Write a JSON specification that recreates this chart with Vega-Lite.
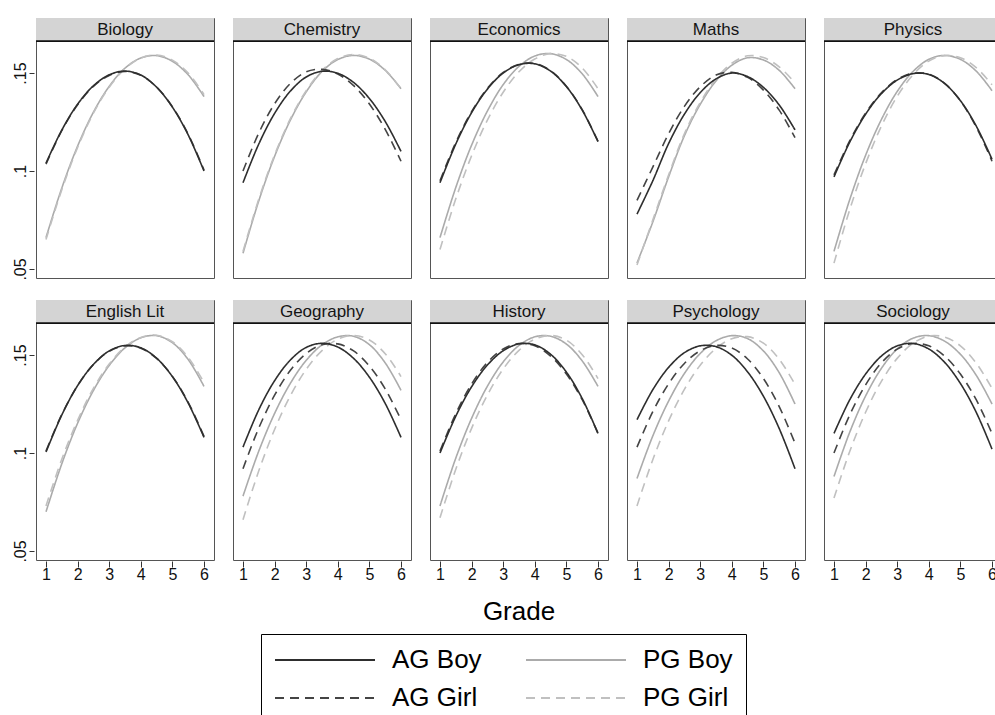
{
"$schema": "https://vega.github.io/schema/vega-lite/v6.json",
"padding": {"left": 12, "top": 17, "right": 0, "bottom": 0},
"background": "white",
"datasets": {
"curves": [
{"s":"Biology","g":"PG Boy","x":1,"y":0.066},{"s":"Biology","g":"PG Boy","x":1.5,"y":0.0913},{"s":"Biology","g":"PG Boy","x":2,"y":0.1127},{"s":"Biology","g":"PG Boy","x":2.5,"y":0.130},{"s":"Biology","g":"PG Boy","x":3,"y":0.1432},{"s":"Biology","g":"PG Boy","x":3.5,"y":0.1525},{"s":"Biology","g":"PG Boy","x":4,"y":0.1577},{"s":"Biology","g":"PG Boy","x":4.5,"y":0.1589},{"s":"Biology","g":"PG Boy","x":5,"y":0.156},{"s":"Biology","g":"PG Boy","x":5.5,"y":0.1491},{"s":"Biology","g":"PG Boy","x":6,"y":0.138},
{"s":"Biology","g":"PG Girl","x":1,"y":0.065},{"s":"Biology","g":"PG Girl","x":1.5,"y":0.0905},{"s":"Biology","g":"PG Girl","x":2,"y":0.112},{"s":"Biology","g":"PG Girl","x":2.5,"y":0.1295},{"s":"Biology","g":"PG Girl","x":3,"y":0.1428},{"s":"Biology","g":"PG Girl","x":3.5,"y":0.1522},{"s":"Biology","g":"PG Girl","x":4,"y":0.1577},{"s":"Biology","g":"PG Girl","x":4.5,"y":0.1592},{"s":"Biology","g":"PG Girl","x":5,"y":0.1566},{"s":"Biology","g":"PG Girl","x":5.5,"y":0.150},{"s":"Biology","g":"PG Girl","x":6,"y":0.139},
{"s":"Biology","g":"AG Girl","x":1,"y":0.1035},{"s":"Biology","g":"AG Girl","x":1.5,"y":0.1206},{"s":"Biology","g":"AG Girl","x":2,"y":0.1338},{"s":"Biology","g":"AG Girl","x":2.5,"y":0.1432},{"s":"Biology","g":"AG Girl","x":3,"y":0.1488},{"s":"Biology","g":"AG Girl","x":3.5,"y":0.1508},{"s":"Biology","g":"AG Girl","x":4,"y":0.1489},{"s":"Biology","g":"AG Girl","x":4.5,"y":0.1428},{"s":"Biology","g":"AG Girl","x":5,"y":0.1328},{"s":"Biology","g":"AG Girl","x":5.5,"y":0.1188},{"s":"Biology","g":"AG Girl","x":6,"y":0.1005},
{"s":"Biology","g":"AG Boy","x":1,"y":0.104},{"s":"Biology","g":"AG Boy","x":1.5,"y":0.1209},{"s":"Biology","g":"AG Boy","x":2,"y":0.1341},{"s":"Biology","g":"AG Boy","x":2.5,"y":0.1435},{"s":"Biology","g":"AG Boy","x":3,"y":0.1491},{"s":"Biology","g":"AG Boy","x":3.5,"y":0.151},{"s":"Biology","g":"AG Boy","x":4,"y":0.149},{"s":"Biology","g":"AG Boy","x":4.5,"y":0.1428},{"s":"Biology","g":"AG Boy","x":5,"y":0.1326},{"s":"Biology","g":"AG Boy","x":5.5,"y":0.1184},{"s":"Biology","g":"AG Boy","x":6,"y":0.100},

{"s":"Chemistry","g":"PG Boy","x":1,"y":0.058},{"s":"Chemistry","g":"PG Boy","x":1.5,"y":0.0848},{"s":"Chemistry","g":"PG Boy","x":2,"y":0.1075},{"s":"Chemistry","g":"PG Boy","x":2.5,"y":0.126},{"s":"Chemistry","g":"PG Boy","x":3,"y":0.1404},{"s":"Chemistry","g":"PG Boy","x":3.5,"y":0.1508},{"s":"Chemistry","g":"PG Boy","x":4,"y":0.1569},{"s":"Chemistry","g":"PG Boy","x":4.5,"y":0.159},{"s":"Chemistry","g":"PG Boy","x":5,"y":0.1571},{"s":"Chemistry","g":"PG Boy","x":5.5,"y":0.1514},{"s":"Chemistry","g":"PG Boy","x":6,"y":0.142},
{"s":"Chemistry","g":"PG Girl","x":1,"y":0.059},{"s":"Chemistry","g":"PG Girl","x":1.5,"y":0.0857},{"s":"Chemistry","g":"PG Girl","x":2,"y":0.1082},{"s":"Chemistry","g":"PG Girl","x":2.5,"y":0.1267},{"s":"Chemistry","g":"PG Girl","x":3,"y":0.141},{"s":"Chemistry","g":"PG Girl","x":3.5,"y":0.1513},{"s":"Chemistry","g":"PG Girl","x":4,"y":0.1574},{"s":"Chemistry","g":"PG Girl","x":4.5,"y":0.1595},{"s":"Chemistry","g":"PG Girl","x":5,"y":0.1576},{"s":"Chemistry","g":"PG Girl","x":5.5,"y":0.1517},{"s":"Chemistry","g":"PG Girl","x":6,"y":0.142},
{"s":"Chemistry","g":"AG Girl","x":1,"y":0.100},{"s":"Chemistry","g":"AG Girl","x":1.5,"y":0.1194},{"s":"Chemistry","g":"AG Girl","x":2,"y":0.1343},{"s":"Chemistry","g":"AG Girl","x":2.5,"y":0.1447},{"s":"Chemistry","g":"AG Girl","x":3,"y":0.1506},{"s":"Chemistry","g":"AG Girl","x":3.5,"y":0.1519},{"s":"Chemistry","g":"AG Girl","x":4,"y":0.1495},{"s":"Chemistry","g":"AG Girl","x":4.5,"y":0.1436},{"s":"Chemistry","g":"AG Girl","x":5,"y":0.1342},{"s":"Chemistry","g":"AG Girl","x":5.5,"y":0.1213},{"s":"Chemistry","g":"AG Girl","x":6,"y":0.105},
{"s":"Chemistry","g":"AG Boy","x":1,"y":0.094},{"s":"Chemistry","g":"AG Boy","x":1.5,"y":0.1138},{"s":"Chemistry","g":"AG Boy","x":2,"y":0.1294},{"s":"Chemistry","g":"AG Boy","x":2.5,"y":0.1408},{"s":"Chemistry","g":"AG Boy","x":3,"y":0.148},{"s":"Chemistry","g":"AG Boy","x":3.5,"y":0.1509},{"s":"Chemistry","g":"AG Boy","x":4,"y":0.1499},{"s":"Chemistry","g":"AG Boy","x":4.5,"y":0.1452},{"s":"Chemistry","g":"AG Boy","x":5,"y":0.137},{"s":"Chemistry","g":"AG Boy","x":5.5,"y":0.1253},{"s":"Chemistry","g":"AG Boy","x":6,"y":0.110},

{"s":"Economics","g":"PG Boy","x":1,"y":0.066},{"s":"Economics","g":"PG Boy","x":1.5,"y":0.0916},{"s":"Economics","g":"PG Boy","x":2,"y":0.1132},{"s":"Economics","g":"PG Boy","x":2.5,"y":0.1306},{"s":"Economics","g":"PG Boy","x":3,"y":0.1441},{"s":"Economics","g":"PG Boy","x":3.5,"y":0.1534},{"s":"Economics","g":"PG Boy","x":4,"y":0.1587},{"s":"Economics","g":"PG Boy","x":4.5,"y":0.1599},{"s":"Economics","g":"PG Boy","x":5,"y":0.1569},{"s":"Economics","g":"PG Boy","x":5.5,"y":0.1496},{"s":"Economics","g":"PG Boy","x":6,"y":0.138},
{"s":"Economics","g":"PG Girl","x":1,"y":0.060},{"s":"Economics","g":"PG Girl","x":1.5,"y":0.0858},{"s":"Economics","g":"PG Girl","x":2,"y":0.1078},{"s":"Economics","g":"PG Girl","x":2.5,"y":0.126},{"s":"Economics","g":"PG Girl","x":3,"y":0.1402},{"s":"Economics","g":"PG Girl","x":3.5,"y":0.1507},{"s":"Economics","g":"PG Girl","x":4,"y":0.1572},{"s":"Economics","g":"PG Girl","x":4.5,"y":0.1599},{"s":"Economics","g":"PG Girl","x":5,"y":0.1585},{"s":"Economics","g":"PG Girl","x":5.5,"y":0.1526},{"s":"Economics","g":"PG Girl","x":6,"y":0.142},
{"s":"Economics","g":"AG Girl","x":1,"y":0.095},{"s":"Economics","g":"AG Girl","x":1.5,"y":0.1146},{"s":"Economics","g":"AG Girl","x":2,"y":0.1303},{"s":"Economics","g":"AG Girl","x":2.5,"y":0.1422},{"s":"Economics","g":"AG Girl","x":3,"y":0.1503},{"s":"Economics","g":"AG Girl","x":3.5,"y":0.1545},{"s":"Economics","g":"AG Girl","x":4,"y":0.1549},{"s":"Economics","g":"AG Girl","x":4.5,"y":0.1512},{"s":"Economics","g":"AG Girl","x":5,"y":0.1433},{"s":"Economics","g":"AG Girl","x":5.5,"y":0.1313},{"s":"Economics","g":"AG Girl","x":6,"y":0.1152},
{"s":"Economics","g":"AG Boy","x":1,"y":0.094},{"s":"Economics","g":"AG Boy","x":1.5,"y":0.1138},{"s":"Economics","g":"AG Boy","x":2,"y":0.1298},{"s":"Economics","g":"AG Boy","x":2.5,"y":0.1418},{"s":"Economics","g":"AG Boy","x":3,"y":0.150},{"s":"Economics","g":"AG Boy","x":3.5,"y":0.1543},{"s":"Economics","g":"AG Boy","x":4,"y":0.1547},{"s":"Economics","g":"AG Boy","x":4.5,"y":0.151},{"s":"Economics","g":"AG Boy","x":5,"y":0.1431},{"s":"Economics","g":"AG Boy","x":5.5,"y":0.1311},{"s":"Economics","g":"AG Boy","x":6,"y":0.115},

{"s":"Maths","g":"PG Boy","x":1,"y":0.053},{"s":"Maths","g":"PG Boy","x":1.5,"y":0.074},{"s":"Maths","g":"PG Boy","x":2,"y":0.097},{"s":"Maths","g":"PG Boy","x":2.5,"y":0.118},{"s":"Maths","g":"PG Boy","x":3,"y":0.134},{"s":"Maths","g":"PG Boy","x":3.5,"y":0.146},{"s":"Maths","g":"PG Boy","x":4,"y":0.154},{"s":"Maths","g":"PG Boy","x":4.5,"y":0.1578},{"s":"Maths","g":"PG Boy","x":5,"y":0.1567},{"s":"Maths","g":"PG Boy","x":5.5,"y":0.1514},{"s":"Maths","g":"PG Boy","x":6,"y":0.142},
{"s":"Maths","g":"PG Girl","x":1,"y":0.052},{"s":"Maths","g":"PG Girl","x":1.5,"y":0.075},{"s":"Maths","g":"PG Girl","x":2,"y":0.098},{"s":"Maths","g":"PG Girl","x":2.5,"y":0.119},{"s":"Maths","g":"PG Girl","x":3,"y":0.135},{"s":"Maths","g":"PG Girl","x":3.5,"y":0.147},{"s":"Maths","g":"PG Girl","x":4,"y":0.155},{"s":"Maths","g":"PG Girl","x":4.5,"y":0.1588},{"s":"Maths","g":"PG Girl","x":5,"y":0.1579},{"s":"Maths","g":"PG Girl","x":5.5,"y":0.1532},{"s":"Maths","g":"PG Girl","x":6,"y":0.145},
{"s":"Maths","g":"AG Girl","x":1,"y":0.085},{"s":"Maths","g":"AG Girl","x":1.5,"y":0.102},{"s":"Maths","g":"AG Girl","x":2,"y":0.119},{"s":"Maths","g":"AG Girl","x":2.5,"y":0.133},{"s":"Maths","g":"AG Girl","x":3,"y":0.143},{"s":"Maths","g":"AG Girl","x":3.5,"y":0.149},{"s":"Maths","g":"AG Girl","x":4,"y":0.1504},{"s":"Maths","g":"AG Girl","x":4.5,"y":0.1478},{"s":"Maths","g":"AG Girl","x":5,"y":0.1413},{"s":"Maths","g":"AG Girl","x":5.5,"y":0.1311},{"s":"Maths","g":"AG Girl","x":6,"y":0.117},
{"s":"Maths","g":"AG Boy","x":1,"y":0.078},{"s":"Maths","g":"AG Boy","x":1.5,"y":0.095},{"s":"Maths","g":"AG Boy","x":2,"y":0.114},{"s":"Maths","g":"AG Boy","x":2.5,"y":0.129},{"s":"Maths","g":"AG Boy","x":3,"y":0.140},{"s":"Maths","g":"AG Boy","x":3.5,"y":0.147},{"s":"Maths","g":"AG Boy","x":4,"y":0.150},{"s":"Maths","g":"AG Boy","x":4.5,"y":0.1482},{"s":"Maths","g":"AG Boy","x":5,"y":0.1427},{"s":"Maths","g":"AG Boy","x":5.5,"y":0.1337},{"s":"Maths","g":"AG Boy","x":6,"y":0.121},

{"s":"Physics","g":"PG Boy","x":1,"y":0.059},{"s":"Physics","g":"PG Boy","x":1.5,"y":0.0855},{"s":"Physics","g":"PG Boy","x":2,"y":0.108},{"s":"Physics","g":"PG Boy","x":2.5,"y":0.1263},{"s":"Physics","g":"PG Boy","x":3,"y":0.1406},{"s":"Physics","g":"PG Boy","x":3.5,"y":0.1508},{"s":"Physics","g":"PG Boy","x":4,"y":0.157},{"s":"Physics","g":"PG Boy","x":4.5,"y":0.159},{"s":"Physics","g":"PG Boy","x":5,"y":0.157},{"s":"Physics","g":"PG Boy","x":5.5,"y":0.151},{"s":"Physics","g":"PG Boy","x":6,"y":0.141},
{"s":"Physics","g":"PG Girl","x":1,"y":0.053},{"s":"Physics","g":"PG Girl","x":1.5,"y":0.0804},{"s":"Physics","g":"PG Girl","x":2,"y":0.1037},{"s":"Physics","g":"PG Girl","x":2.5,"y":0.1229},{"s":"Physics","g":"PG Girl","x":3,"y":0.1381},{"s":"Physics","g":"PG Girl","x":3.5,"y":0.1491},{"s":"Physics","g":"PG Girl","x":4,"y":0.1561},{"s":"Physics","g":"PG Girl","x":4.5,"y":0.1589},{"s":"Physics","g":"PG Girl","x":5,"y":0.1578},{"s":"Physics","g":"PG Girl","x":5.5,"y":0.1528},{"s":"Physics","g":"PG Girl","x":6,"y":0.144},
{"s":"Physics","g":"AG Girl","x":1,"y":0.098},{"s":"Physics","g":"AG Girl","x":1.5,"y":0.1155},{"s":"Physics","g":"AG Girl","x":2,"y":0.1295},{"s":"Physics","g":"AG Girl","x":2.5,"y":0.1399},{"s":"Physics","g":"AG Girl","x":3,"y":0.1467},{"s":"Physics","g":"AG Girl","x":3.5,"y":0.1499},{"s":"Physics","g":"AG Girl","x":4,"y":0.1494},{"s":"Physics","g":"AG Girl","x":4.5,"y":0.1447},{"s":"Physics","g":"AG Girl","x":5,"y":0.1358},{"s":"Physics","g":"AG Girl","x":5.5,"y":0.1225},{"s":"Physics","g":"AG Girl","x":6,"y":0.105},
{"s":"Physics","g":"AG Boy","x":1,"y":0.097},{"s":"Physics","g":"AG Boy","x":1.5,"y":0.1148},{"s":"Physics","g":"AG Boy","x":2,"y":0.129},{"s":"Physics","g":"AG Boy","x":2.5,"y":0.1395},{"s":"Physics","g":"AG Boy","x":3,"y":0.1464},{"s":"Physics","g":"AG Boy","x":3.5,"y":0.1497},{"s":"Physics","g":"AG Boy","x":4,"y":0.1493},{"s":"Physics","g":"AG Boy","x":4.5,"y":0.1447},{"s":"Physics","g":"AG Boy","x":5,"y":0.1359},{"s":"Physics","g":"AG Boy","x":5.5,"y":0.123},{"s":"Physics","g":"AG Boy","x":6,"y":0.106},

{"s":"English Lit","g":"PG Boy","x":1,"y":0.070},{"s":"English Lit","g":"PG Boy","x":1.5,"y":0.0945},{"s":"English Lit","g":"PG Boy","x":2,"y":0.1152},{"s":"English Lit","g":"PG Boy","x":2.5,"y":0.1319},{"s":"English Lit","g":"PG Boy","x":3,"y":0.1447},{"s":"English Lit","g":"PG Boy","x":3.5,"y":0.1537},{"s":"English Lit","g":"PG Boy","x":4,"y":0.1588},{"s":"English Lit","g":"PG Boy","x":4.5,"y":0.1599},{"s":"English Lit","g":"PG Boy","x":5,"y":0.1563},{"s":"English Lit","g":"PG Boy","x":5.5,"y":0.1477},{"s":"English Lit","g":"PG Boy","x":6,"y":0.134},
{"s":"English Lit","g":"PG Girl","x":1,"y":0.073},{"s":"English Lit","g":"PG Girl","x":1.5,"y":0.0968},{"s":"English Lit","g":"PG Girl","x":2,"y":0.1167},{"s":"English Lit","g":"PG Girl","x":2.5,"y":0.133},{"s":"English Lit","g":"PG Girl","x":3,"y":0.1454},{"s":"English Lit","g":"PG Girl","x":3.5,"y":0.1541},{"s":"English Lit","g":"PG Girl","x":4,"y":0.159},{"s":"English Lit","g":"PG Girl","x":4.5,"y":0.1601},{"s":"English Lit","g":"PG Girl","x":5,"y":0.1568},{"s":"English Lit","g":"PG Girl","x":5.5,"y":0.1488},{"s":"English Lit","g":"PG Girl","x":6,"y":0.136},
{"s":"English Lit","g":"AG Girl","x":1,"y":0.101},{"s":"English Lit","g":"AG Girl","x":1.5,"y":0.1197},{"s":"English Lit","g":"AG Girl","x":2,"y":0.1344},{"s":"English Lit","g":"AG Girl","x":2.5,"y":0.1452},{"s":"English Lit","g":"AG Girl","x":3,"y":0.1519},{"s":"English Lit","g":"AG Girl","x":3.5,"y":0.1547},{"s":"English Lit","g":"AG Girl","x":4,"y":0.1535},{"s":"English Lit","g":"AG Girl","x":4.5,"y":0.1483},{"s":"English Lit","g":"AG Girl","x":5,"y":0.1391},{"s":"English Lit","g":"AG Girl","x":5.5,"y":0.1259},{"s":"English Lit","g":"AG Girl","x":6,"y":0.1085},
{"s":"English Lit","g":"AG Boy","x":1,"y":0.1005},{"s":"English Lit","g":"AG Boy","x":1.5,"y":0.1194},{"s":"English Lit","g":"AG Boy","x":2,"y":0.1344},{"s":"English Lit","g":"AG Boy","x":2.5,"y":0.1452},{"s":"English Lit","g":"AG Boy","x":3,"y":0.1521},{"s":"English Lit","g":"AG Boy","x":3.5,"y":0.1549},{"s":"English Lit","g":"AG Boy","x":4,"y":0.1537},{"s":"English Lit","g":"AG Boy","x":4.5,"y":0.1484},{"s":"English Lit","g":"AG Boy","x":5,"y":0.139},{"s":"English Lit","g":"AG Boy","x":5.5,"y":0.1255},{"s":"English Lit","g":"AG Boy","x":6,"y":0.108},

{"s":"Geography","g":"PG Boy","x":1,"y":0.078},{"s":"Geography","g":"PG Boy","x":1.5,"y":0.101},{"s":"Geography","g":"PG Boy","x":2,"y":0.1202},{"s":"Geography","g":"PG Boy","x":2.5,"y":0.1356},{"s":"Geography","g":"PG Boy","x":3,"y":0.1473},{"s":"Geography","g":"PG Boy","x":3.5,"y":0.1552},{"s":"Geography","g":"PG Boy","x":4,"y":0.1593},{"s":"Geography","g":"PG Boy","x":4.5,"y":0.1596},{"s":"Geography","g":"PG Boy","x":5,"y":0.1553},{"s":"Geography","g":"PG Boy","x":5.5,"y":0.146},{"s":"Geography","g":"PG Boy","x":6,"y":0.132},
{"s":"Geography","g":"PG Girl","x":1,"y":0.066},{"s":"Geography","g":"PG Girl","x":1.5,"y":0.0909},{"s":"Geography","g":"PG Girl","x":2,"y":0.112},{"s":"Geography","g":"PG Girl","x":2.5,"y":0.1293},{"s":"Geography","g":"PG Girl","x":3,"y":0.1427},{"s":"Geography","g":"PG Girl","x":3.5,"y":0.1523},{"s":"Geography","g":"PG Girl","x":4,"y":0.1581},{"s":"Geography","g":"PG Girl","x":4.5,"y":0.160},{"s":"Geography","g":"PG Girl","x":5,"y":0.1577},{"s":"Geography","g":"PG Girl","x":5.5,"y":0.1507},{"s":"Geography","g":"PG Girl","x":6,"y":0.139},
{"s":"Geography","g":"AG Girl","x":1,"y":0.092},{"s":"Geography","g":"AG Girl","x":1.5,"y":0.1128},{"s":"Geography","g":"AG Girl","x":2,"y":0.1295},{"s":"Geography","g":"AG Girl","x":2.5,"y":0.1422},{"s":"Geography","g":"AG Girl","x":3,"y":0.1508},{"s":"Geography","g":"AG Girl","x":3.5,"y":0.1553},{"s":"Geography","g":"AG Girl","x":4,"y":0.1557},{"s":"Geography","g":"AG Girl","x":4.5,"y":0.1521},{"s":"Geography","g":"AG Girl","x":5,"y":0.1444},{"s":"Geography","g":"AG Girl","x":5.5,"y":0.1327},{"s":"Geography","g":"AG Girl","x":6,"y":0.117},
{"s":"Geography","g":"AG Boy","x":1,"y":0.103},{"s":"Geography","g":"AG Boy","x":1.5,"y":0.1221},{"s":"Geography","g":"AG Boy","x":2,"y":0.1369},{"s":"Geography","g":"AG Boy","x":2.5,"y":0.1475},{"s":"Geography","g":"AG Boy","x":3,"y":0.1539},{"s":"Geography","g":"AG Boy","x":3.5,"y":0.156},{"s":"Geography","g":"AG Boy","x":4,"y":0.1541},{"s":"Geography","g":"AG Boy","x":4.5,"y":0.1483},{"s":"Geography","g":"AG Boy","x":5,"y":0.1387},{"s":"Geography","g":"AG Boy","x":5.5,"y":0.1253},{"s":"Geography","g":"AG Boy","x":6,"y":0.108},

{"s":"History","g":"PG Boy","x":1,"y":0.073},{"s":"History","g":"PG Boy","x":1.5,"y":0.0974},{"s":"History","g":"PG Boy","x":2,"y":0.1177},{"s":"History","g":"PG Boy","x":2.5,"y":0.1341},{"s":"History","g":"PG Boy","x":3,"y":0.1465},{"s":"History","g":"PG Boy","x":3.5,"y":0.1549},{"s":"History","g":"PG Boy","x":4,"y":0.1593},{"s":"History","g":"PG Boy","x":4.5,"y":0.1596},{"s":"History","g":"PG Boy","x":5,"y":0.1556},{"s":"History","g":"PG Boy","x":5.5,"y":0.147},{"s":"History","g":"PG Boy","x":6,"y":0.134},
{"s":"History","g":"PG Girl","x":1,"y":0.067},{"s":"History","g":"PG Girl","x":1.5,"y":0.0917},{"s":"History","g":"PG Girl","x":2,"y":0.1126},{"s":"History","g":"PG Girl","x":2.5,"y":0.1296},{"s":"History","g":"PG Girl","x":3,"y":0.1429},{"s":"History","g":"PG Girl","x":3.5,"y":0.1524},{"s":"History","g":"PG Girl","x":4,"y":0.1581},{"s":"History","g":"PG Girl","x":4.5,"y":0.160},{"s":"History","g":"PG Girl","x":5,"y":0.1576},{"s":"History","g":"PG Girl","x":5.5,"y":0.1502},{"s":"History","g":"PG Girl","x":6,"y":0.138},
{"s":"History","g":"AG Girl","x":1,"y":0.101},{"s":"History","g":"AG Girl","x":1.5,"y":0.1201},{"s":"History","g":"AG Girl","x":2,"y":0.1352},{"s":"History","g":"AG Girl","x":2.5,"y":0.1462},{"s":"History","g":"AG Girl","x":3,"y":0.1531},{"s":"History","g":"AG Girl","x":3.5,"y":0.1559},{"s":"History","g":"AG Girl","x":4,"y":0.1547},{"s":"History","g":"AG Girl","x":4.5,"y":0.1495},{"s":"History","g":"AG Girl","x":5,"y":0.1403},{"s":"History","g":"AG Girl","x":5.5,"y":0.1272},{"s":"History","g":"AG Girl","x":6,"y":0.110},
{"s":"History","g":"AG Boy","x":1,"y":0.100},{"s":"History","g":"AG Boy","x":1.5,"y":0.1188},{"s":"History","g":"AG Boy","x":2,"y":0.1338},{"s":"History","g":"AG Boy","x":2.5,"y":0.1449},{"s":"History","g":"AG Boy","x":3,"y":0.1522},{"s":"History","g":"AG Boy","x":3.5,"y":0.1557},{"s":"History","g":"AG Boy","x":4,"y":0.1552},{"s":"History","g":"AG Boy","x":4.5,"y":0.1504},{"s":"History","g":"AG Boy","x":5,"y":0.1413},{"s":"History","g":"AG Boy","x":5.5,"y":0.1278},{"s":"History","g":"AG Boy","x":6,"y":0.110},

{"s":"Psychology","g":"PG Boy","x":1,"y":0.087},{"s":"Psychology","g":"PG Boy","x":1.5,"y":0.1087},{"s":"Psychology","g":"PG Boy","x":2,"y":0.1265},{"s":"Psychology","g":"PG Boy","x":2.5,"y":0.1406},{"s":"Psychology","g":"PG Boy","x":3,"y":0.1508},{"s":"Psychology","g":"PG Boy","x":3.5,"y":0.1573},{"s":"Psychology","g":"PG Boy","x":4,"y":0.1599},{"s":"Psychology","g":"PG Boy","x":4.5,"y":0.1584},{"s":"Psychology","g":"PG Boy","x":5,"y":0.1521},{"s":"Psychology","g":"PG Boy","x":5.5,"y":0.141},{"s":"Psychology","g":"PG Boy","x":6,"y":0.125},
{"s":"Psychology","g":"PG Girl","x":1,"y":0.073},{"s":"Psychology","g":"PG Girl","x":1.5,"y":0.0966},{"s":"Psychology","g":"PG Girl","x":2,"y":0.1164},{"s":"Psychology","g":"PG Girl","x":2.5,"y":0.1325},{"s":"Psychology","g":"PG Girl","x":3,"y":0.1448},{"s":"Psychology","g":"PG Girl","x":3.5,"y":0.1534},{"s":"Psychology","g":"PG Girl","x":4,"y":0.1583},{"s":"Psychology","g":"PG Girl","x":4.5,"y":0.1594},{"s":"Psychology","g":"PG Girl","x":5,"y":0.1561},{"s":"Psychology","g":"PG Girl","x":5.5,"y":0.1479},{"s":"Psychology","g":"PG Girl","x":6,"y":0.135},
{"s":"Psychology","g":"AG Girl","x":1,"y":0.103},{"s":"Psychology","g":"AG Girl","x":1.5,"y":0.1211},{"s":"Psychology","g":"AG Girl","x":2,"y":0.1353},{"s":"Psychology","g":"AG Girl","x":2.5,"y":0.1457},{"s":"Psychology","g":"AG Girl","x":3,"y":0.1522},{"s":"Psychology","g":"AG Girl","x":3.5,"y":0.1549},{"s":"Psychology","g":"AG Girl","x":4,"y":0.1536},{"s":"Psychology","g":"AG Girl","x":4.5,"y":0.148},{"s":"Psychology","g":"AG Girl","x":5,"y":0.138},{"s":"Psychology","g":"AG Girl","x":5.5,"y":0.1237},{"s":"Psychology","g":"AG Girl","x":6,"y":0.105},
{"s":"Psychology","g":"AG Boy","x":1,"y":0.117},{"s":"Psychology","g":"AG Boy","x":1.5,"y":0.1323},{"s":"Psychology","g":"AG Boy","x":2,"y":0.1437},{"s":"Psychology","g":"AG Boy","x":2.5,"y":0.1512},{"s":"Psychology","g":"AG Boy","x":3,"y":0.1547},{"s":"Psychology","g":"AG Boy","x":3.5,"y":0.1543},{"s":"Psychology","g":"AG Boy","x":4,"y":0.1499},{"s":"Psychology","g":"AG Boy","x":4.5,"y":0.1414},{"s":"Psychology","g":"AG Boy","x":5,"y":0.129},{"s":"Psychology","g":"AG Boy","x":5.5,"y":0.1125},{"s":"Psychology","g":"AG Boy","x":6,"y":0.092},

{"s":"Sociology","g":"PG Boy","x":1,"y":0.088},{"s":"Sociology","g":"PG Boy","x":1.5,"y":0.1107},{"s":"Sociology","g":"PG Boy","x":2,"y":0.1291},{"s":"Sociology","g":"PG Boy","x":2.5,"y":0.1432},{"s":"Sociology","g":"PG Boy","x":3,"y":0.1531},{"s":"Sociology","g":"PG Boy","x":3.5,"y":0.1586},{"s":"Sociology","g":"PG Boy","x":4,"y":0.1599},{"s":"Sociology","g":"PG Boy","x":4.5,"y":0.1571},{"s":"Sociology","g":"PG Boy","x":5,"y":0.1504},{"s":"Sociology","g":"PG Boy","x":5.5,"y":0.1397},{"s":"Sociology","g":"PG Boy","x":6,"y":0.125},
{"s":"Sociology","g":"PG Girl","x":1,"y":0.077},{"s":"Sociology","g":"PG Girl","x":1.5,"y":0.1009},{"s":"Sociology","g":"PG Girl","x":2,"y":0.1208},{"s":"Sociology","g":"PG Girl","x":2.5,"y":0.1366},{"s":"Sociology","g":"PG Girl","x":3,"y":0.1483},{"s":"Sociology","g":"PG Girl","x":3.5,"y":0.156},{"s":"Sociology","g":"PG Girl","x":4,"y":0.1597},{"s":"Sociology","g":"PG Girl","x":4.5,"y":0.1592},{"s":"Sociology","g":"PG Girl","x":5,"y":0.1547},{"s":"Sociology","g":"PG Girl","x":5.5,"y":0.1459},{"s":"Sociology","g":"PG Girl","x":6,"y":0.133},
{"s":"Sociology","g":"AG Girl","x":1,"y":0.100},{"s":"Sociology","g":"AG Girl","x":1.5,"y":0.1195},{"s":"Sociology","g":"AG Girl","x":2,"y":0.1348},{"s":"Sociology","g":"AG Girl","x":2.5,"y":0.146},{"s":"Sociology","g":"AG Girl","x":3,"y":0.153},{"s":"Sociology","g":"AG Girl","x":3.5,"y":0.1559},{"s":"Sociology","g":"AG Girl","x":4,"y":0.1547},{"s":"Sociology","g":"AG Girl","x":4.5,"y":0.1495},{"s":"Sociology","g":"AG Girl","x":5,"y":0.1403},{"s":"Sociology","g":"AG Girl","x":5.5,"y":0.1272},{"s":"Sociology","g":"AG Girl","x":6,"y":0.110},
{"s":"Sociology","g":"AG Boy","x":1,"y":0.110},{"s":"Sociology","g":"AG Boy","x":1.5,"y":0.1272},{"s":"Sociology","g":"AG Boy","x":2,"y":0.1403},{"s":"Sociology","g":"AG Boy","x":2.5,"y":0.1495},{"s":"Sociology","g":"AG Boy","x":3,"y":0.1547},{"s":"Sociology","g":"AG Boy","x":3.5,"y":0.1559},{"s":"Sociology","g":"AG Boy","x":4,"y":0.1531},{"s":"Sociology","g":"AG Boy","x":4.5,"y":0.1463},{"s":"Sociology","g":"AG Boy","x":5,"y":0.1355},{"s":"Sociology","g":"AG Boy","x":5.5,"y":0.1208},{"s":"Sociology","g":"AG Boy","x":6,"y":0.102}
]
},
"data": {"name": "curves"},
"facet": {
  "field": "s", "type": "nominal",
  "sort": ["Biology","Chemistry","Economics","Maths","Physics","English Lit","Geography","History","Psychology","Sociology"],
  "title": "Grade",
  "header": {"labelExpr": "''", "labelFontSize": 0.1, "labelPadding": 0, "titleOrient": "bottom", "titleFontSize": 26, "titleFont": "Liberation Sans", "titleFontWeight": "normal", "titleColor": "#000", "titlePadding": 17}
},
"columns": 5,
"spacing": {"column": 15, "row": 20},
"spec": {
  "width": 178, "height": 260,
  "layer": [
    {
      "transform": [{"aggregate": [{"op": "count", "as": "n"}], "groupby": ["s"]}],
      "mark": {"type": "rect", "fill": "#d4d4d4", "strokeWidth": 0},
      "encoding": {
        "x": {"datum": 0.684, "type": "quantitative", "title": null,
              "scale": {"domain": [0.684, 6.316], "nice": false, "zero": false},
              "axis": {"values": [1,2,3,4,5,6], "tickCount": 6, "format": "d", "labelOverlap": false, "domain": false, "grid": false, "tickSize": 6, "tickColor": "#333", "labelFontSize": 16, "labelColor": "#111", "labelPadding": -1, "labelFont": "Liberation Sans"}},
        "x2": {"datum": 6.316},
        "y": {"datum": 0.1663, "type": "quantitative", "title": null,
              "scale": {"domain": [0.0454, 0.1781], "nice": false, "zero": false},
              "axis": {"values": [0.05, 0.1, 0.15], "tickCount": 7, "format": ".2~f", "labelExpr": "replace(datum.label, '0.', '.')", "labelOverlap": false, "domain": false, "grid": false, "tickSize": 5, "tickColor": "#333", "labelAngle": 270, "labelAlign": "center", "labelBaseline": "bottom", "labelFontSize": 16, "labelColor": "#111", "labelPadding": 1, "labelFont": "Liberation Sans"}},
        "y2": {"datum": 0.1781}
      }
    },
    {
      "transform": [{"aggregate": [{"op": "count", "as": "n"}], "groupby": ["s"]}],
      "mark": {"type": "rule", "color": "#111", "strokeWidth": 1.6},
      "encoding": {
        "x": {"datum": 0.684, "type": "quantitative", "title": null},
        "x2": {"datum": 6.316},
        "y": {"datum": 0.1663, "type": "quantitative", "title": null}
      }
    },
    {
      "transform": [{"aggregate": [{"op": "count", "as": "n"}], "groupby": ["s"]}],
      "mark": {"type": "text", "fontSize": 17, "font": "Liberation Sans", "color": "#141414", "baseline": "middle", "align": "center"},
      "encoding": {
        "x": {"datum": 3.5, "type": "quantitative", "title": null},
        "y": {"datum": 0.1721, "type": "quantitative", "title": null},
        "text": {"field": "s"}
      }
    },
    {
      "mark": {"type": "line", "strokeWidth": 1.6, "interpolate": "catmull-rom"},
      "encoding": {
        "x": {"field": "x", "type": "quantitative", "title": null},
        "y": {"field": "y", "type": "quantitative", "title": null},
        "color": {"field": "g", "type": "nominal", "title": null,
                  "scale": {"domain": ["AG Boy", "AG Girl", "PG Boy", "PG Girl"], "range": ["#2e2e2e", "#444444", "#ababab", "#c0c0c0"]}},
        "strokeDash": {"field": "g", "type": "nominal", "title": null,
                  "scale": {"domain": ["AG Boy", "AG Girl", "PG Boy", "PG Girl"], "range": [[1, 0], [9, 6], [1, 0], [9, 6]]}}
      }
    }
  ]
},
"config": {
  "font": "Liberation Sans",
  "view": {"stroke": "#555", "strokeWidth": 1},
  "legend": {
    "orient": "none", "legendX": 225, "legendY": 616,
    "columns": 2, "strokeColor": "#000", "strokeWidth": 1, "padding": 13,
    "symbolType": "M-5,0H5", "symbolSize": 400, "symbolStrokeWidth": 2, "symbolOffset": 38,
    "labelFontSize": 26, "labelFont": "Liberation Sans", "labelColor": "#000", "labelOffset": 54, "labelLimit": 300,
    "columnPadding": 40, "rowPadding": 12, "fillColor": "white"
  }
}
}
